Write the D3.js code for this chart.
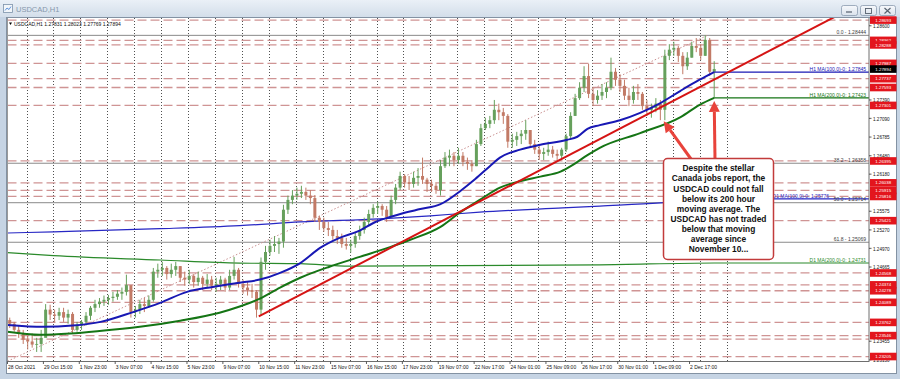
<!DOCTYPE html>
<html>
<head>
<meta charset="utf-8">
<script src="https://cdn.jsdelivr.net/npm/d3@7"></script>
<style>
html, body { margin: 0; padding: 0; background: #c8d6e5; }
svg { display: block; }
text { font-family: "Liberation Sans", Arial, sans-serif; }
</style>
</head>
<body>
<svg id="chart" width="900" height="379"></svg>
<script>
// ---- data (4 hourly bars per candle) ----
var barsPerCandle = 4;
var firstOpen = 1.2380;

var highs = [1.2384,1.2377,1.2371,1.2364,1.2354,1.2358,1.2351,1.2364,1.2406,1.2405,
  1.2397,1.2400,1.2400,1.2397,1.2393,1.2377,1.2380,1.2393,1.2403,1.2413,
  1.2416,1.2420,1.2421,1.2426,1.2429,1.2433,1.2454,1.2429,1.2403,1.2413,
  1.2416,1.2420,1.2465,1.2472,1.2475,1.2468,1.2472,1.2475,1.2468,1.2459,
  1.2462,1.2455,1.2459,1.2452,1.2455,1.2452,1.2449,1.2452,1.2449,1.2462,
  1.2483,1.2465,1.2446,1.2442,1.2439,1.2429,1.2482,1.2501,1.2511,1.2517,
  1.2514,1.2568,1.2583,1.2592,1.2596,1.2599,1.2596,1.2592,1.2584,1.2550,
  1.2547,1.2540,1.2534,1.2527,1.2521,1.2514,1.2511,1.2524,1.2534,1.2547,
  1.2560,1.2569,1.2573,1.2569,1.2566,1.2583,1.2602,1.2622,1.2618,1.2615,
  1.2622,1.2628,1.2645,1.2612,1.2609,1.2605,1.2641,1.2654,1.2658,1.2654,
  1.2661,1.2654,1.2645,1.2641,1.2674,1.2700,1.2710,1.2713,1.2739,1.2733,
  1.2726,1.2716,1.2684,1.2687,1.2690,1.2706,1.2690,1.2674,1.2664,1.2661,
  1.2671,1.2664,1.2658,1.2661,1.2684,1.2719,1.2749,1.2768,1.2794,1.2798,
  1.2759,1.2755,1.2765,1.2768,1.2808,1.2791,1.2781,1.2772,1.2759,1.2762,
  1.2765,1.2752,1.2739,1.2733,1.2742,1.2739,1.2821,1.2830,1.2834,1.2827,
  1.2817,1.2817,1.2834,1.2840,1.2830,1.28444,1.2840,1.28023];

var lows = [1.2367,1.2361,1.2351,1.2341,1.2332,1.2335,1.2328,1.2328,1.2354,1.2380,
  1.2377,1.2380,1.2377,1.2374,1.2358,1.2361,1.2364,1.2371,1.2380,1.2393,
  1.2400,1.2403,1.2405,1.2410,1.2413,1.2413,1.2420,1.2384,1.2384,1.2390,
  1.2393,1.2400,1.2410,1.2449,1.2452,1.2446,1.2449,1.2452,1.2442,1.2436,
  1.2439,1.2433,1.2436,1.2429,1.2433,1.2429,1.2426,1.2429,1.2426,1.2429,
  1.2446,1.2433,1.2423,1.2420,1.2416,1.2384,1.2387,1.2462,1.2485,1.2491,
  1.2488,1.2498,1.2553,1.2569,1.2576,1.2579,1.2576,1.2569,1.2540,1.2527,
  1.2524,1.2517,1.2511,1.2504,1.2498,1.2495,1.2490,1.2498,1.2511,1.2521,
  1.2534,1.2547,1.2553,1.2550,1.2540,1.2547,1.2569,1.2592,1.2596,1.2592,
  1.2596,1.2599,1.2602,1.2589,1.2589,1.2586,1.2583,1.2628,1.2631,1.2631,
  1.2635,1.2631,1.2625,1.2622,1.2631,1.2664,1.2690,1.2693,1.2700,1.2706,
  1.2700,1.2661,1.2661,1.2664,1.2667,1.2674,1.2661,1.2651,1.2641,1.2641,
  1.2648,1.2645,1.2641,1.2641,1.2654,1.2677,1.2713,1.2739,1.2752,1.2742,
  1.2729,1.2733,1.2739,1.2742,1.2755,1.2762,1.2752,1.2739,1.2729,1.2733,
  1.2739,1.2723,1.2713,1.2710,1.2719,1.2706,1.2706,1.2804,1.2811,1.2801,
  1.2781,1.2788,1.2808,1.2817,1.2804,1.2811,1.2778,1.27423];

var closes = [1.2374,1.2364,1.2358,1.2348,1.2345,1.2340,1.2341,1.2351,1.2397,1.2389,
  1.2387,1.2393,1.2384,1.2390,1.2364,1.2371,1.2377,1.2387,1.2400,1.2406,
  1.2410,1.2413,1.2416,1.2418,1.2423,1.2426,1.2437,1.2393,1.2397,1.2406,
  1.2403,1.2413,1.2459,1.2462,1.2465,1.2455,1.2462,1.2468,1.2449,1.2446,
  1.2452,1.2442,1.2449,1.2439,1.2446,1.2436,1.2439,1.2446,1.2433,1.2452,
  1.2462,1.2439,1.2433,1.2429,1.2426,1.2397,1.2475,1.2491,1.2501,1.2504,
  1.2508,1.2560,1.2576,1.2583,1.2586,1.2589,1.2583,1.2579,1.2547,1.2540,
  1.2530,1.2527,1.2517,1.2514,1.2504,1.2501,1.2504,1.2517,1.2527,1.2540,
  1.2553,1.2563,1.2566,1.2560,1.2547,1.2576,1.2596,1.2615,1.2605,1.2602,
  1.2612,1.2615,1.2609,1.2602,1.2599,1.2592,1.2631,1.2645,1.2648,1.2641,
  1.2648,1.2638,1.2635,1.2631,1.2667,1.2693,1.2700,1.2706,1.2723,1.2719,
  1.2713,1.2671,1.2674,1.2680,1.2684,1.2690,1.2667,1.2658,1.2651,1.2654,
  1.2658,1.2651,1.2648,1.2658,1.2680,1.2713,1.2742,1.2759,1.2778,1.2749,
  1.2739,1.2746,1.2752,1.2759,1.2785,1.2772,1.2762,1.2746,1.2739,1.2752,
  1.2749,1.2729,1.2723,1.2726,1.2733,1.2723,1.2811,1.2821,1.2824,1.2811,
  1.2794,1.2808,1.2827,1.2824,1.2811,1.2837,1.2785,1.27894];

// moving averages: bar index / price pairs
var maH1_100_idx = [0,32,58,83,112,136,160,183,207,225,243,261,279,296,314,328,341,354,368,386,404,417,430,439,457,475,499,508,517,528,546,564,582,600,617,630];
var maH1_100 = [1.2372,1.2369,1.2371,1.2377,1.2393,1.2408,1.2426,1.2434,1.2441,1.2446,1.2457,1.2473,1.2498,1.2514,1.2526,1.2540,1.2548,1.2555,1.2561,1.2569,1.2591,1.2610,1.2631,1.2645,1.2658,1.2666,1.2674,1.2679,1.2692,1.2698,1.2706,1.2718,1.2734,1.2754,1.2772,1.27845];
var maH1_200_idx = [0,29,56,82,118,154,189,207,225,243,261,287,314,341,359,386,403,421,439,454,475,493,504,517,528,564,600,617,630];
var maH1_200 = [1.2361,1.2356,1.2358,1.2362,1.2369,1.2379,1.2392,1.2402,1.2415,1.2433,1.2449,1.2467,1.2483,1.2499,1.2511,1.2532,1.2555,1.2576,1.2596,1.2605,1.2614,1.2622,1.2633,1.2649,1.2661,1.2685,1.2711,1.2731,1.27423];
var maD1_100_idx = [0,41,136,207,261,332,377,421,495,528,582,630];
var maD1_100 = [1.2522,1.2524,1.2529,1.2534,1.2540,1.2545,1.2550,1.2556,1.2563,1.2566,1.2571,1.25776];
var maD1_200_idx = [0,41,136,207,261,305,528,630];
var maD1_200 = [1.2490,1.2485,1.2478,1.2473,1.2472,1.2468,1.2470,1.24731];

// drawn objects
var trendIdx = [224, 760];
var trendPrice = [1.2386, 1.2896];
var fibIdx = [-17, 624];
var fibPrice = [1.22983, 1.28444];
var fibLevels = ["0.0", "38.2", "50.0", "61.8"];
var fibValues = [1.28444, 1.26358, 1.25714, 1.25069];
var levelLines = [1.28693,1.28362,1.28288,1.27987,1.27737,1.27593,1.27301,1.26395,1.26038,1.25915,1.25816,1.25421,1.24568,1.24374,1.24278,1.24089,1.23762,1.23546,1.23205];
var plainLines = [1.23490];
var lastPrice = 1.27894;

// axes (only the price labels left visible between the level tags)
var priceTicks = [1.28600,1.27390,1.27090,1.26785,1.26480,1.26180,1.25575,1.25270,1.24970,1.24665,1.23455,1.23150];
var timeLabels = ["28 Oct 2021","29 Oct 15:00","1 Nov 23:00","3 Nov 07:00","4 Nov 15:00","5 Nov 23:00","9 Nov 07:00","10 Nov 15:00","11 Nov 23:00","15 Nov 07:00","16 Nov 15:00","17 Nov 23:00","19 Nov 07:00","22 Nov 17:00","24 Nov 01:00","25 Nov 09:00","26 Nov 17:00","30 Nov 01:00","1 Dec 09:00","2 Dec 17:00"];
var barsPerLabel = 32;

var noteLines = ["Despite the stellar","Canada jobs report, the","USDCAD could not fall","below its 200 hour","moving average. The","USDCAD has not traded","below that moving","average since","November 10..."];

// ---- layout ----
var W = 900, H = 379;
var plot = {left: 7.5, right: 869, top: 18, bottom: 361.5};
var x = d3.scaleLinear().domain([0, 768]).range([plot.left, plot.right]);
var y = d3.scaleLinear().domain([1.23124, 1.28727]).range([plot.bottom, plot.top]);

var svg = d3.select("#chart");
var defs = svg.append("defs");

var tg = defs.append("linearGradient").attr("id", "titleGrad").attr("x1", 0).attr("y1", 0).attr("x2", 0).attr("y2", 1);
tg.append("stop").attr("offset", "0%").attr("stop-color", "#eaf0f7");
tg.append("stop").attr("offset", "100%").attr("stop-color", "#d3deea");
var bg = defs.append("linearGradient").attr("id", "btnGrad").attr("x1", 0).attr("y1", 0).attr("x2", 0).attr("y2", 1);
bg.append("stop").attr("offset", "0%").attr("stop-color", "#f7f9fc");
bg.append("stop").attr("offset", "100%").attr("stop-color", "#dae2ec");

defs.append("clipPath").attr("id", "plotClip")
  .append("rect")
  .attr("x", plot.left).attr("y", plot.top)
  .attr("width", plot.right - plot.left).attr("height", plot.bottom - plot.top);

// window chrome
svg.append("rect").attr("width", W).attr("height", H).attr("fill", "#c6d4e4");
svg.append("rect").attr("width", W).attr("height", 17).attr("fill", "url(#titleGrad)");
svg.append("rect").attr("x", 3.5).attr("y", 4.5).attr("width", 9).attr("height", 8)
  .attr("fill", "#f2f6fa").attr("stroke", "#7d92aa").attr("stroke-width", 0.8);
svg.append("polyline").attr("points", "5,10.5 7,8 9,9.5 11,6.5")
  .attr("fill", "none").attr("stroke", "#3a7bd5").attr("stroke-width", 0.8);
svg.append("text").attr("x", 16).attr("y", 11.5).attr("font-size", 7.5)
  .attr("fill", "#8597ab").text("USDCAD,H1");

var btnX = [841, 860, 879];
svg.selectAll("rect.btn").data(btnX).join("rect").attr("class", "btn")
  .attr("x", function(d){ return d + 0.5; }).attr("y", 5.5).attr("width", 16).attr("height", 10).attr("rx", 2)
  .attr("fill", "url(#btnGrad)").attr("stroke", "#8a9aae").attr("stroke-width", 0.8);
svg.append("line").attr("x1", 846).attr("x2", 852).attr("y1", 12).attr("y2", 12).attr("stroke", "#55606e").attr("stroke-width", 1.2);
svg.append("rect").attr("x", 865.5).attr("y", 8.5).attr("width", 6).attr("height", 5).attr("fill", "none").attr("stroke", "#55606e").attr("stroke-width", 0.9);
svg.append("path").attr("d", "M884.5,8 L890.5,13.5 M890.5,8 L884.5,13.5").attr("stroke", "#55606e").attr("stroke-width", 1.1);

// chart window
svg.append("rect").attr("x", 6.5).attr("y", 17.5).attr("width", 890).attr("height", 356)
  .attr("fill", "#ffffff").attr("stroke", "#8392a3").attr("stroke-width", 1);

var g = svg.append("g").attr("clip-path", "url(#plotClip)");

// vertical dotted grid (one per trading day)
g.selectAll("line.vgrid").data(d3.range(17, 642, 24)).join("line").attr("class", "vgrid")
  .attr("x1", function(d){ return Math.round(x(d)) + 0.5; }).attr("x2", function(d){ return Math.round(x(d)) + 0.5; })
  .attr("y1", plot.top).attr("y2", plot.bottom)
  .attr("stroke", "#505050").attr("stroke-width", 1).attr("stroke-dasharray", "1,2");

// dashed support / resistance levels
g.selectAll("line.level").data(levelLines.concat(plainLines)).join("line").attr("class", "level")
  .attr("x1", plot.left).attr("x2", plot.right)
  .attr("y1", function(d){ return y(d); }).attr("y2", function(d){ return y(d); })
  .attr("stroke", "#cf9494").attr("stroke-width", 1.3).attr("stroke-dasharray", "9,4");

// fibonacci levels
g.selectAll("line.fib").data(fibValues).join("line").attr("class", "fib")
  .attr("x1", plot.left).attr("x2", plot.right)
  .attr("y1", function(d){ return y(d); }).attr("y2", function(d){ return y(d); })
  .attr("stroke", "#8a8a8a").attr("stroke-width", 1);

g.append("line")
  .attr("x1", x(fibIdx[0])).attr("y1", y(fibPrice[0]))
  .attr("x2", x(fibIdx[1])).attr("y2", y(fibPrice[1]))
  .attr("stroke", "#c99090").attr("stroke-width", 1).attr("stroke-dasharray", "1.5,2");

function pairs(idx, vals) {
  return idx.map(function(d, i){ return [d, vals[i]]; });
}
var maLine = d3.line().x(function(d){ return x(d[0]); }).y(function(d){ return y(d[1]); }).curve(d3.curveMonotoneX);

// daily MAs (thin)
var d1 = [
  {pts: pairs(maD1_100_idx, maD1_100), color: "#2727c4"},
  {pts: pairs(maD1_200_idx, maD1_200), color: "#2b8a2b"}
];
d1.forEach(function(m){
  var last = m.pts[m.pts.length - 1];
  g.append("path").attr("d", maLine(m.pts.concat([[768, last[1]]])))
    .attr("fill", "none").attr("stroke", m.color).attr("stroke-width", 1.2);
});

// candles
var up = "#66a05c", down = "#c27a66";
var candles = closes.map(function(c, k){
  return {i: k * barsPerCandle + 2, o: k ? closes[k - 1] : firstOpen, h: highs[k], l: lows[k], c: c};
});
g.selectAll("line.wick").data(candles).join("line").attr("class", "wick")
  .attr("x1", function(d){ return x(d.i); }).attr("x2", function(d){ return x(d.i); })
  .attr("y1", function(d){ return y(d.h); }).attr("y2", function(d){ return y(d.l); })
  .attr("stroke", function(d){ return d.c >= d.o ? up : down; }).attr("stroke-width", 1);
g.selectAll("rect.body").data(candles).join("rect").attr("class", "body")
  .attr("x", function(d){ return x(d.i) - 1.5; }).attr("width", 3)
  .attr("y", function(d){ return y(Math.max(d.o, d.c)); })
  .attr("height", function(d){ return Math.max(0.8, Math.abs(y(d.o) - y(d.c))); })
  .attr("fill", function(d){ return d.c >= d.o ? up : down; });

// hourly MAs (thick) with flat extension to the right edge
var h1 = [
  {pts: pairs(maH1_200_idx, maH1_200), color: "#157515"},
  {pts: pairs(maH1_100_idx, maH1_100), color: "#1818b4"}
];
h1.forEach(function(m){
  var last = m.pts[m.pts.length - 1];
  g.append("path").attr("d", maLine(m.pts))
    .attr("fill", "none").attr("stroke", m.color).attr("stroke-width", 2);
  g.append("line").attr("x1", x(last[0])).attr("x2", plot.right)
    .attr("y1", y(last[1])).attr("y2", y(last[1]))
    .attr("stroke", m.color).attr("stroke-width", 1.3);
});

// rising trend line
g.append("line")
  .attr("x1", x(trendIdx[0])).attr("y1", y(trendPrice[0]))
  .attr("x2", x(trendIdx[1])).attr("y2", y(trendPrice[1]))
  .attr("stroke", "#d51414").attr("stroke-width", 2);

// object labels on the right of the plot
var objLabels = [
  {t: "0.0 - 1.28444", v: fibValues[0], c: "#3c3c3c"},
  {t: "38.2 - 1.26358", v: fibValues[1], c: "#3c3c3c"},
  {t: "D1 MA(100,0)-0: 1.25776", v: maD1_100[maD1_100.length - 1], c: "#2727c4", dx: -37},
  {t: "50.0 - 1.25714", v: fibValues[2], c: "#3c3c3c"},
  {t: "61.8 - 1.25069", v: fibValues[3], c: "#3c3c3c"},
  {t: "D1 MA(200,0)-0: 1.24731", v: maD1_200[maD1_200.length - 1], c: "#2b8a2b"},
  {t: "H1 MA(100,0)-0: 1.27845", v: maH1_100[maH1_100.length - 1], c: "#1818b4"},
  {t: "H1 MA(200,0)-0: 1.27423", v: maH1_200[maH1_200.length - 1], c: "#157515"}
];
svg.selectAll("text.obj").data(objLabels).join("text").attr("class", "obj")
  .attr("x", function(d){ return 866 + (d.dx || 0); }).attr("y", function(d){ return y(d.v) - 1.3; })
  .attr("text-anchor", "end").attr("font-size", 5).attr("fill", function(d){ return d.c; })
  .text(function(d){ return d.t; });

// header
svg.append("path").attr("d", "M9,22.5 L12,22.5 L10.5,25 Z").attr("fill", "#000");
svg.append("text").attr("x", 14).attr("y", 25.5).attr("font-size", 5).attr("fill", "#111")
  .text("USDCAD,H1  1.27831 1.28023 1.27769 1.27894");

// axes lines
svg.append("line").attr("x1", plot.right).attr("x2", plot.right).attr("y1", plot.top).attr("y2", plot.bottom + 0.5)
  .attr("stroke", "#6e6e6e").attr("stroke-width", 1);
svg.append("line").attr("x1", plot.left - 0.5).attr("x2", plot.right).attr("y1", plot.bottom).attr("y2", plot.bottom)
  .attr("stroke", "#6e6e6e").attr("stroke-width", 1);
svg.append("line").attr("x1", plot.left).attr("x2", plot.left).attr("y1", plot.top).attr("y2", plot.bottom)
  .attr("stroke", "#9a9a9a").attr("stroke-width", 1);

// price axis
var py = svg.append("g");
py.selectAll("line").data(priceTicks).join("line")
  .attr("x1", plot.right).attr("x2", plot.right + 2.5)
  .attr("y1", function(d){ return y(d); }).attr("y2", function(d){ return y(d); })
  .attr("stroke", "#333").attr("stroke-width", 0.8);
py.selectAll("text").data(priceTicks).join("text")
  .attr("x", 873).attr("y", function(d){ return y(d) + 2.2; })
  .attr("font-size", 4.6).attr("fill", "#111")
  .text(function(d){ return d.toFixed(5); });

var tagW = 26.5, tagH = 7.6;
var tags = svg.append("g");
levelLines.forEach(function(v){
  tags.append("rect").attr("x", 870).attr("y", y(v) - tagH / 2).attr("width", tagW).attr("height", tagH).attr("fill", "#e3151d");
  tags.append("text").attr("x", 870 + tagW / 2).attr("y", y(v) + 1.6).attr("text-anchor", "middle")
    .attr("font-size", 4.4).attr("fill", "#fff").text(v.toFixed(5));
});
tags.append("rect").attr("x", 870).attr("y", y(lastPrice) - tagH / 2).attr("width", tagW).attr("height", tagH).attr("fill", "#000");
tags.append("text").attr("x", 870 + tagW / 2).attr("y", y(lastPrice) + 1.6).attr("text-anchor", "middle")
  .attr("font-size", 4.4).attr("fill", "#fff").text(lastPrice.toFixed(5));

// time axis
var tx = svg.append("g");
tx.selectAll("line").data(timeLabels).join("line")
  .attr("x1", function(d, i){ return x(i * barsPerLabel); }).attr("x2", function(d, i){ return x(i * barsPerLabel); })
  .attr("y1", plot.bottom).attr("y2", plot.bottom + 2.5)
  .attr("stroke", "#333").attr("stroke-width", 0.8);
tx.selectAll("text").data(timeLabels).join("text")
  .attr("x", function(d, i){ return x(i * barsPerLabel) + 0.5; }).attr("y", 369)
  .attr("font-size", 5).attr("fill", "#111")
  .text(function(d){ return d; });

// annotation
var arrowColor = "#e8433b";
function arrow(x0, y0, x1, y1) {
  var a = Math.atan2(y1 - y0, x1 - x0), len = 11, hw = 5.5;
  var bx = x1 - len * Math.cos(a), by = y1 - len * Math.sin(a);
  svg.append("line").attr("x1", x0).attr("y1", y0).attr("x2", bx).attr("y2", by)
    .attr("stroke", arrowColor).attr("stroke-width", 3);
  svg.append("path")
    .attr("d", "M" + x1 + "," + y1 +
      " L" + (bx + hw * Math.sin(a)) + "," + (by - hw * Math.cos(a)) +
      " L" + (bx - hw * Math.sin(a)) + "," + (by + hw * Math.cos(a)) + " Z")
    .attr("fill", arrowColor);
}
arrow(691, 159, x(585), y(1.2706) + 1);
arrow(715, 159, x(630), y(maH1_200[maH1_200.length - 1]) + 3);

var box = {x: 663.5, y: 158.5, w: 110, h: 101};
svg.append("rect").attr("x", box.x).attr("y", box.y).attr("width", box.w).attr("height", box.h).attr("rx", 4)
  .attr("fill", "#fff").attr("stroke", "#c23b3b").attr("stroke-width", 1.5);
svg.selectAll("text.note").data(noteLines).join("text").attr("class", "note")
  .attr("x", box.x + box.w / 2).attr("y", function(d, i){ return 171.3 + i * 10.1; })
  .attr("text-anchor", "middle").attr("font-size", 8.4).attr("font-weight", "bold").attr("fill", "#111")
  .text(function(d){ return d; });
</script>
</body>
</html>
